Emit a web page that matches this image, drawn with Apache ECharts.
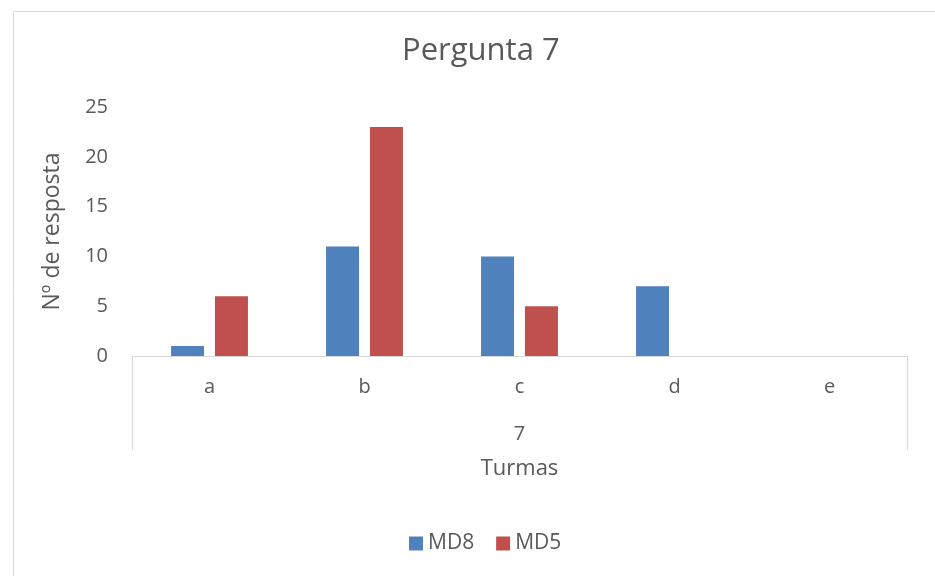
<!DOCTYPE html>
<html><head><meta charset="utf-8">
<script src="https://cdn.jsdelivr.net/npm/echarts@6/dist/echarts.min.js"></script>
<style>html,body{margin:0;padding:0;background:#fff}#c{width:935px;height:576px}</style>
</head><body><div id="c"></div>
<script>
var categories = ['a','b','c','d','e'];
var groupLabels = ['7'];
var seriesNames = ['MD8','MD5'];
var md8 = [1, 11, 10, 7, 0];
var md5 = [6, 23, 5, 0, 0];
var yTicks = {min: 0, max: 25, interval: 5};

var FONT = '"Open Sans", "Noto Sans", sans-serif';
var TXT = '#595959';
var LINE = '#d9d9d9';
var chart = echarts.init(document.getElementById('c'));
chart.setOption({
  animation: false,
  textStyle: {fontFamily: FONT, color: TXT},
  title: {text: 'Pergunta 7', left: 397, top: 31,
    textStyle: {fontFamily: FONT, fontSize: 31, fontWeight: 'normal', color: TXT}},
  graphic: [{type: 'rect', left: 11, top: 9, shape: {width: 1000, height: 700},
    style: {fill: 'none', stroke: LINE, lineWidth: 1}, silent: true}],
  legend: {data: seriesNames, bottom: 17, left: 404, itemWidth: 14, itemHeight: 14,
    itemGap: 22, icon: 'rect', textStyle: {fontFamily: FONT, fontSize: 21, color: TXT}},
  grid: {left: 132, right: 28, top: 107, bottom: 220},
  xAxis: [{
    type: 'category', data: categories, position: 'bottom',
    axisLine: {show: true, lineStyle: {color: LINE, width: 1}},
    axisTick: {show: false},
    axisLabel: {margin: 21, fontSize: 20, color: TXT, fontFamily: FONT},
    name: 'Turmas', nameLocation: 'middle', nameGap: 102,
    nameTextStyle: {fontSize: 22, color: TXT, fontFamily: FONT}
  }, {
    type: 'category', data: groupLabels, position: 'bottom',
    axisLine: {show: false},
    axisTick: {show: true, length: 94, inside: false, lineStyle: {color: LINE, width: 1}},
    axisLabel: {margin: 68, fontSize: 20, color: TXT, fontFamily: FONT}
  }],
  yAxis: {
    type: 'value', min: yTicks.min, max: yTicks.max, interval: yTicks.interval,
    axisLine: {show: false}, axisTick: {show: false}, splitLine: {show: false},
    axisLabel: {margin: 24, fontSize: 20, color: TXT, fontFamily: FONT},
    name: 'Nº de resposta', nameLocation: 'middle', nameGap: 68, nameRotate: 90,
    nameTextStyle: {fontSize: 23, color: TXT, fontFamily: FONT}
  },
  series: [
    {name: seriesNames[0], type: 'bar', data: md8, barWidth: 33, barGap: '33%',
      itemStyle: {color: '#4F81BD'}},
    {name: seriesNames[1], type: 'bar', data: md5, barWidth: 33, barGap: '33%',
      itemStyle: {color: '#C0504D'}}
  ]
});
</script></body></html>
